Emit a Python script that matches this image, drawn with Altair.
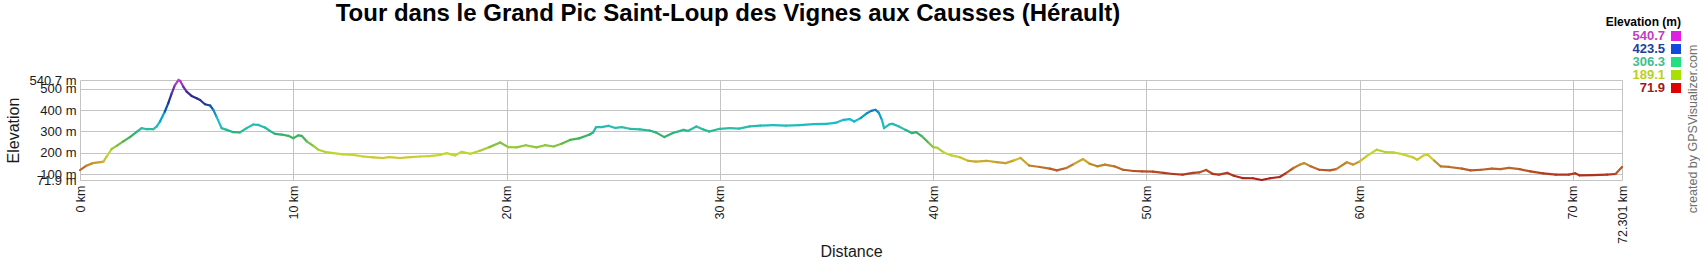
import altair as alt
import pandas as pd

km = [0.0, 0.3, 0.6, 0.95, 1.1, 1.25, 1.48, 1.72, 2.03, 2.34, 2.66, 2.89, 3.12, 3.44, 3.6, 3.75,
      3.98, 4.14, 4.3, 4.45, 4.62, 4.7, 4.84, 5.0, 5.23, 5.47, 5.63, 5.86, 6.1, 6.25, 6.4, 6.64,
      6.88, 7.19, 7.5, 7.81, 8.13, 8.36, 8.67, 8.9, 9.14, 9.45, 9.77, 10.0, 10.23, 10.39, 10.63,
      10.94, 11.17, 11.48, 11.88, 12.34, 12.8, 13.28, 13.75, 14.2, 14.5, 15.0, 15.47, 15.94, 16.4,
      16.9, 17.2, 17.58, 17.9, 18.3, 18.75, 19.2, 19.7, 20.08, 20.47, 20.9, 21.4, 21.8, 22.2,
      22.58, 22.97, 23.4, 23.9, 24.06, 24.2, 24.45, 24.77, 25.1, 25.4, 25.78, 26.25, 26.7, 27.0,
      27.4, 27.8, 28.3, 28.5, 28.9, 29.2, 29.5, 30.0, 30.47, 30.9, 31.4, 31.9, 32.5, 33.1, 33.75,
      34.4, 35.0, 35.47, 35.8, 36.1, 36.3, 36.6, 36.9, 37.1, 37.3, 37.45, 37.6, 37.7, 37.97, 38.1,
      38.4, 38.7, 39.0, 39.2, 39.45, 39.8, 40.0, 40.2, 40.5, 40.86, 41.25, 41.64, 42.0, 42.5,
      42.97, 43.4, 43.8, 44.1, 44.5, 45.0, 45.47, 45.8, 46.25, 46.6, 47.03, 47.34, 47.7, 48.05,
      48.5, 48.9, 49.4, 49.8, 50.3, 50.8, 51.25, 51.7, 52.2, 52.5, 52.8, 53.1, 53.4, 53.8, 54.1,
      54.5, 55.0, 55.4, 55.8, 56.25, 56.56, 56.9, 57.2, 57.4, 57.7, 58.1, 58.6, 58.9, 59.4, 59.7,
      60.0, 60.3, 60.8, 61.2, 61.6, 62.0, 62.5, 62.7, 63.0, 63.2, 63.5, 63.8, 64.2, 64.8, 65.2,
      65.7, 66.2, 66.6, 67.0, 67.5, 68.0, 68.6, 69.2, 69.8, 70.1, 70.3, 70.9, 71.6, 72.0, 72.301]
elev = [118, 139, 151, 156, 158, 182, 217, 232, 253, 273, 298, 315, 310, 310, 323, 346,
        393, 432, 478, 517, 540.7, 536, 510, 486, 466, 455, 447, 427, 421, 401, 369, 315,
        307, 296, 295, 315, 332, 330, 318, 302, 288, 285, 279, 268, 281, 279, 253,
        232, 214, 204, 198, 192, 190, 182, 178, 175, 179, 175, 179, 182, 184,
        190, 198, 187, 204, 195, 209, 226, 248, 226, 225, 235, 225, 235, 229,
        242, 260, 267, 285, 295, 320, 320, 326, 316, 320, 312, 309, 304, 295,
        273, 292, 307, 302, 323, 310, 299, 312, 315, 313, 323, 327, 329, 327, 329,
        334, 335, 341, 354, 357, 346, 362, 385, 396, 401, 388, 354, 315, 334, 335,
        323, 307, 292, 296, 279, 245, 226, 223, 201, 187, 179, 162, 158, 162,
        156, 151, 164, 175, 140, 133, 125, 117, 128, 147, 170, 148, 136, 144,
        136, 120, 114, 112, 111, 105, 100, 97, 105, 108, 119, 101, 97, 105, 92,
        81, 80, 71.9, 80, 86, 105, 128, 144, 151, 136, 120, 117, 123, 155, 144,
        159, 182, 214, 203, 201, 193, 178, 167, 187, 190, 162, 136, 133, 125, 117,
        120, 125, 123, 129, 123, 112, 103, 97, 97, 103, 94, 95, 97, 100, 133]

title_text = "Tour dans le Grand Pic Saint-Loup des Vignes aux Causses (Hérault)"
x_ticks = [0, 10, 20, 30, 40, 50, 60, 70, 72.301]
y_ticks = [71.9, 100, 200, 300, 400, 500, 540.7]
x_domain = [0, 72.301]
y_domain = [71.9, 540.7]

legend_values = ["540.7", "423.5", "306.3", "189.1", "71.9"]
legend_square_colors = ["#e020e0", "#1048e0", "#20e080", "#a8e000", "#e00000"]
legend_text_colors = ["#c040c0", "#2040a0", "#40c090", "#b8d020", "#a01818"]

color_stops = [71.9, 95, 120, 145, 170, 189.1, 220, 255, 290, 315, 350, 395, 423.5, 470, 510, 540.7]
color_range = ["#b01818", "#b03020", "#b85a28", "#c08a2c", "#cdbf30", "#c8d830", "#a8cc38",
               "#50b848", "#30b070", "#30bca8", "#22bcd0", "#2080b8", "#1c3c98", "#30288c",
               "#7a30b0", "#d040d0"]

FONT = "Liberation Sans"

seg = pd.DataFrame({
    "km": km[:-1], "km2": km[1:],
    "elev": elev[:-1], "elev2": elev[1:],
    "mid": [(a + b) / 2 for a, b in zip(elev[:-1], elev[1:])],
})

W, H = 1542, 100

line = alt.Chart(seg).mark_rule(strokeWidth=2.2, strokeCap="round").encode(
    x=alt.X("km:Q", scale=alt.Scale(domain=x_domain, nice=False, zero=False),
            axis=alt.Axis(values=x_ticks, title="Distance", labelExpr="datum.value + ' km'",
                          labelAngle=270, labelFontSize=12.5, labelPadding=5, tickSize=0,
                          labelOverlap=False, labelFlush=False, domain=False,
                          titleFontSize=16, titleFontWeight="normal", titleBaseline="middle",
                          titleY=71, titlePadding=0)),
    x2="km2:Q",
    y=alt.Y("elev:Q", scale=alt.Scale(domain=y_domain, nice=False, zero=False),
            axis=alt.Axis(values=y_ticks, title="Elevation", labelExpr="datum.value + ' m'",
                          labelFontSize=13, labelPadding=4, tickSize=0, labelOverlap=False,
                          labelFlush=False, domain=False, titleFontSize=16,
                          titleFontWeight="normal", titleAngle=270, titleBaseline="middle",
                          titleAlign="center", titleX=-67, titleY=50)),
    y2="elev2:Q",
    color=alt.Color("mid:Q", scale=alt.Scale(domain=color_stops, range=color_range), legend=None),
)

legend_df = pd.DataFrame({"val": legend_values, "scol": legend_square_colors, "tcol": legend_text_colors})
leg_y = alt.Y("val:N", scale=alt.Scale(type="point", domain=legend_values, range=[-44, 8], padding=0),
              axis=None)

squares = alt.Chart(legend_df).mark_square(size=100, opacity=1, filled=True).encode(
    x=alt.value(1596), y=leg_y, color=alt.Color("scol:N", scale=None))

labels = alt.Chart(legend_df).mark_text(align="right", baseline="middle", fontWeight="bold",
                                        fontSize=13, font=FONT).encode(
    x=alt.value(1585), y=leg_y, text="val:N", color=alt.Color("tcol:N", scale=None))

leg_title = alt.Chart(pd.DataFrame({"t": ["Elevation (m)"]})).mark_text(
    align="right", baseline="middle", fontWeight="bold", fontSize=12, font=FONT, color="#000000"
).encode(x=alt.value(1601), y=alt.value(-58), text="t:N")

credit = alt.Chart(pd.DataFrame({"t": ["created by GPSVisualizer.com"]})).mark_text(
    align="center", baseline="middle", fontSize=12.5, font=FONT, color="#707070", angle=270
).encode(x=alt.value(1613), y=alt.value(49), text="t:N")

main_title = alt.Chart(pd.DataFrame({"t": [title_text]})).mark_text(
    align="center", baseline="middle", fontSize=24, font=FONT, fontWeight="bold", color="#000000"
).encode(x=alt.value(648), y=alt.value(-66), text="t:N")

chart = alt.layer(line, squares, labels, leg_title, credit, main_title).resolve_scale(
    y="independent", color="independent"
).properties(
    width=W, height=H,
    padding={"left": 80, "top": 80, "right": 78, "bottom": 80},
    autosize=alt.AutoSizeParams(type="none"),
).configure_view(stroke=None).configure_axis(
    labelFont=FONT, titleFont=FONT, labelColor="#1a1a1a", titleColor="#1a1a1a",
    gridColor="#c4c4c4", gridWidth=1, grid=True
)

chart.save("out.html", embed_options={"renderer": "svg", "actions": False})
